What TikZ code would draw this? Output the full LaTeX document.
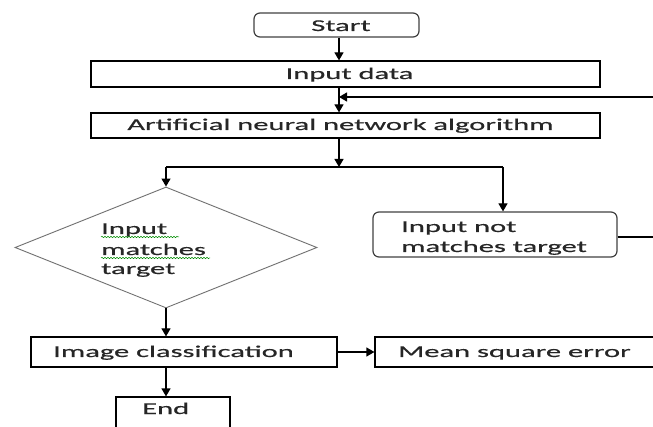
\documentclass[tikz,border=0pt]{standalone}
\usepackage{fontspec}
\setmainfont{Carlito}[FakeStretch=1.85,FakeBold=0.5]
\usetikzlibrary{arrows.meta,shapes.geometric,decorations.pathmorphing}
\begin{document}
\begin{tikzpicture}[x=1pt,y=-1pt,
  box/.style={draw=black, line width=1.2pt, inner sep=0pt},
  rbox/.style={draw=black!75, line width=1.2pt, rounded corners=6pt, inner sep=0pt},
  dbox/.style={diamond, draw=black!55, line width=0.9pt, inner sep=0pt},
  txt/.style={font=\fontsize{16.5}{19}\selectfont, inner sep=0pt, text=black!85},
  arr/.style={line width=1.2pt, -{Triangle[length=8pt,width=9pt]}},
  ln/.style={line width=1.2pt},
  squig/.style={draw=green!55!black, line width=0.5pt, decorate,
    decoration={snake, amplitude=0.7pt, segment length=3pt}}]
\useasboundingbox (0,0) rectangle (653,427);
% boxes
\node[rbox, minimum width=165pt, minimum height=24pt] (start) at (336.5,25) {};
\node[box, minimum width=509pt, minimum height=26pt] (input) at (345.5,74) {};
\node[box, minimum width=509pt, minimum height=25pt] (ann) at (345.5,125.5) {};
\node[dbox, minimum width=302pt, minimum height=121pt] (dia) at (166,247.5) {};
\node[rbox, minimum width=244pt, minimum height=45pt] (notm) at (495,234.5) {};
\node[box, minimum width=306pt, minimum height=30pt] (imgc) at (184,352) {};
\node[box, minimum width=285pt, minimum height=30pt] (mse) at (517.5,352) {};
\node[box, minimum width=114pt, minimum height=43pt] (endb) at (173,418.5) {};
% texts
\node[txt, anchor=base] (tstart) at (341,31) {Start};
\node[txt, anchor=base] (tinput) at (349.5,79) {Input data};
\node[txt, anchor=base] (tann) at (340.5,130) {Artificial neural network algorithm};
\node[txt, anchor=base west] (td1) at (101,234) {Input};
\node[txt, anchor=base west] (td2) at (101,255) {matches};
\node[txt, anchor=base west] (td3) at (101,274) {target};
\node[txt, anchor=base west] (tn1) at (401,232) {Input not};
\node[txt, anchor=base west] (tn2) at (401,252) {matches target};
\node[txt, anchor=base west] (timg) at (53,357) {Image classification};
\node[txt, anchor=base west] (tmse) at (398,357) {Mean square error};
\node[txt, anchor=base west] (tend) at (142,414) {End};
% spell-check squiggles
\draw[squig] (td1.base west) ++(0,3) -- ++(78,0);
\draw[squig] (td2.base west) ++(0,3) -- ++(109,0);
% coordinates
\coordinate (sx) at (339,0);
\coordinate (fbR) at (655,97);
\coordinate (split) at (339,167);
\coordinate (rb) at (503,167);
\coordinate (outR) at (655,237);
% connectors
\draw[arr] (start.south -| sx) -- (input.north -| sx);
\draw[arr] (input.south -| sx) -- (ann.north -| sx);
\draw[arr] (fbR) -- (fbR -| sx);
\draw[arr] (ann.south -| sx) -- (split);
\draw[ln] (dia.north |- split) -- (rb);
\draw[arr] (dia.north |- split) -- (dia.north);
\draw[arr] (rb) -- (rb |- notm.north);
\draw[ln] (notm.east |- outR) -- (outR);
\draw[arr] (dia.south) -- (dia.south |- imgc.north);
\draw[arr] (imgc.east |- mse.west) -- (mse.west);
\draw[arr] (imgc.south -| dia.south) -- (endb.north -| dia.south);
\end{tikzpicture}
\end{document}
